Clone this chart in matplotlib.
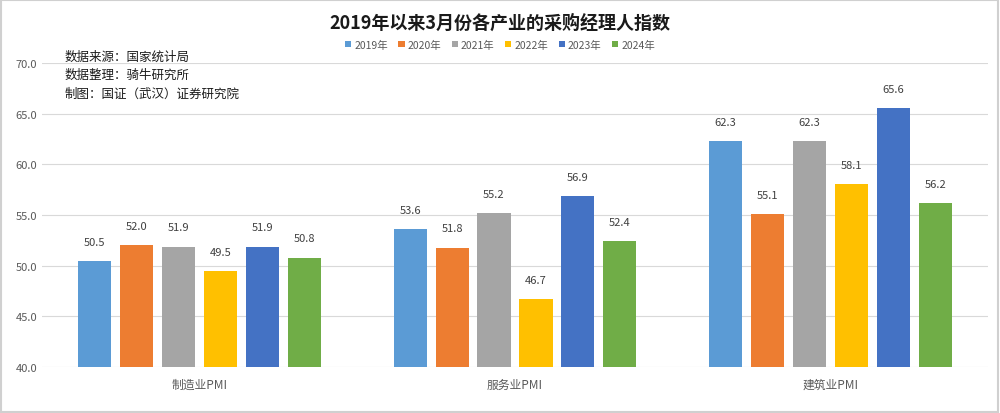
import matplotlib.pyplot as plt
import numpy as np

plt.rcParams['font.family'] = ['Noto Sans CJK SC', 'DejaVu Sans']

categories = ['制造业PMI', '服务业PMI', '建筑业PMI']
years = ['2019年', '2020年', '2021年', '2022年', '2023年', '2024年']
values = {
    '2019年': [50.5, 53.6, 62.3],
    '2020年': [52.0, 51.8, 55.1],
    '2021年': [51.9, 55.2, 62.3],
    '2022年': [49.5, 46.7, 58.1],
    '2023年': [51.9, 56.9, 65.6],
    '2024年': [50.8, 52.4, 56.2],
}
colors = ['#5B9BD5', '#ED7D31', '#A5A5A5', '#FFC000', '#4472C4', '#70AD47']
notes = ['数据来源：国家统计局', '数据整理：骑牛研究所', '制图：国证（武汉）证券研究院']

fig = plt.figure(figsize=(10, 4.14), dpi=100)
ax = fig.add_axes([0.042, 0.111, 0.946, 0.734])

x = np.arange(len(categories))
step = 0.133
width = 0.105
for i, (year, c) in enumerate(zip(years, colors)):
    pos = x + (i - 2.5) * step
    ax.bar(pos, values[year], width=width, color=c, label=year, zorder=3)
    for xp, v in zip(pos, values[year]):
        ax.text(xp, v + 1.4, f'{v:.1f}', ha='center', va='bottom', fontsize=8, color='#404040')

ax.set_xlim(-0.5, 2.5)
ax.set_ylim(40, 70)
ax.set_yticks(np.arange(40, 71, 5))
ax.set_yticklabels([f'{t:.1f}' for t in np.arange(40, 71, 5)])
ax.set_xticks(x)
ax.set_xticklabels(categories)
ax.tick_params(axis='both', length=0, labelsize=8, colors='#595959')
ax.tick_params(axis='x', pad=8, labelsize=8.5)
ax.grid(axis='y', color='#D9D9D9', linewidth=0.8, zorder=0)
for s in ax.spines.values():
    s.set_visible(False)

fig.text(0.5, 0.945, '2019年以来3月份各产业的采购经理人指数', ha='center', va='center',
         fontsize=13, fontweight='bold', color='#1a1a1a')
fig.legend(loc='center', bbox_to_anchor=(0.5, 0.89), ncol=6, fontsize=7.5, frameon=False,
           handlelength=0.6, handleheight=0.6, columnspacing=1.0, handletextpad=0.3,
           labelcolor='#595959')

for k, t in enumerate(notes):
    fig.text(0.065, 1 - (57 + k * 18.5) / 414, t, ha='left', va='center', fontsize=9, color='#1a1a1a')

fig.patches.append(plt.Rectangle((0.001, 0.002), 0.997, 0.995, transform=fig.transFigure,
                                 fill=False, edgecolor='#D0D0D0', linewidth=1.5))

fig.savefig('out.png', dpi=100)
